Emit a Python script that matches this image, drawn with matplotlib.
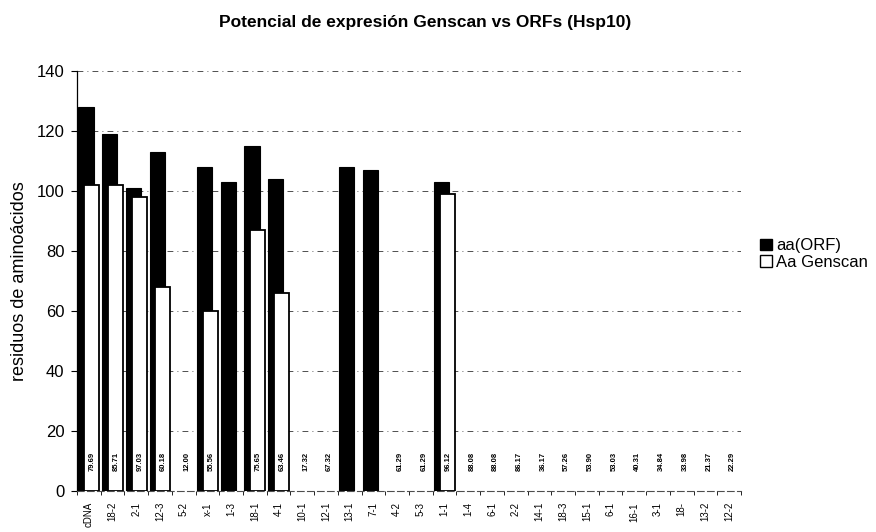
import matplotlib
matplotlib.use("Agg")
import matplotlib.pyplot as plt
from matplotlib.patches import Patch
import numpy as np

plt.rcParams['font.family'] = ['Liberation Sans', 'DejaVu Sans']

categories = ["cDNA", "18-2", "2-1", "12-3", "5-2", "x-1", "1-3", "18-1", "4-1",
              "10-1", "12-1", "13-1", "7-1", "4-2", "5-3", "1-1", "1-4", "6-1",
              "2-2", "14-1", "18-3", "15-1", "6-1", "16-1", "3-1", "18-", "13-2", "12-2"]
aa_orf = [128, 119, 101, 113, 0, 108, 103, 115, 104, 0, 0, 108, 107, 0,
          0, 103, 0, 0, 0, 0, 0, 0, 0, 0, 0, 0, 0, 0]
aa_genscan = [102, 102, 98, 68, 0, 60, 0, 87, 66, 0, 0, 0, 0, 0,
              0, 99, 0, 0, 0, 0, 0, 0, 0, 0, 0, 0, 0, 0]
pct_labels = ["79.69", "85.71", "97.03", "60.18", "12.00", "55.56", "0.00", "75.65", "63.46",
              "17.32", "67.32", "0.00", "0.00", "61.29", "61.29", "96.12", "88.08", "88.08",
              "86.17", "36.17", "57.26", "53.90", "53.03", "40.31", "34.84", "33.98", "21.37", "22.29"]
y_ticks = [0, 20, 40, 60, 80, 100, 120, 140]

fig = plt.figure(figsize=(8.76, 5.32), dpi=100)
ax = fig.add_axes([77/876, 1 - 491/532, (741-77)/876, (491-71)/532])

x = np.arange(len(categories))
w = 0.64
off = 0.12
lw_orf = [0.8 if v > 0 else 0 for v in aa_orf]
lw_gen = [1.3 if v > 0 else 0 for v in aa_genscan]
ax.bar(x - off, aa_orf, width=w, color='black', edgecolor='black', linewidth=lw_orf, zorder=2)
ax.bar(x + off, aa_genscan, width=w, color='white', edgecolor='black', linewidth=lw_gen, zorder=3)

for xi, lab in zip(x, pct_labels):
    ax.text(xi + 0.15, 10, lab, rotation=90, ha='center', va='center',
            fontsize=5.5, fontweight='bold', color='black', zorder=4)

ax.set_xlim(-0.5, len(categories) - 0.5)
ax.set_ylim(0, 140)
ax.set_yticks(y_ticks)
ax.set_yticklabels([str(v) for v in y_ticks], fontsize=12)
ax.set_xticks(x)
ax.set_xticklabels(categories, rotation=90, fontsize=7)
ax.set_xticks(np.arange(len(categories) + 1) - 0.5, minor=True)
ax.tick_params(axis='x', which='major', length=0, pad=8)
ax.tick_params(axis='x', which='minor', length=3, width=0.6)
ax.tick_params(axis='y', length=4, width=0.8, pad=5)

ax.yaxis.grid(True, color='0.2', linestyle=(0, (7, 5, 1, 5)), linewidth=0.6)
ax.set_axisbelow(True)

for s in ['top', 'right']:
    ax.spines[s].set_visible(False)
ax.spines['left'].set_linewidth(0.9)
ax.spines['bottom'].set_linewidth(0.8)
ax.spines['bottom'].set_color('0.3')
ax.spines['bottom'].set_linestyle((0, (6, 3)))

ax.set_ylabel("residuos de aminoácidos", fontsize=13, labelpad=6)
fig.text(425/876, 1 - 23/532, "Potencial de expresión Genscan vs ORFs (Hsp10)",
         ha='center', va='center', fontsize=12.5, fontweight='bold')

handles = [Patch(facecolor='black', edgecolor='black', label='aa(ORF)'),
           Patch(facecolor='white', edgecolor='black', label='Aa Genscan')]
fig.legend(handles=handles, loc='center left', bbox_to_anchor=(752/876, 1 - 254/532),
           frameon=False, fontsize=12, handlelength=0.7, handleheight=0.7,
           handletextpad=0.25, labelspacing=0.1, borderpad=0)

fig.savefig("out.png", dpi=100)
